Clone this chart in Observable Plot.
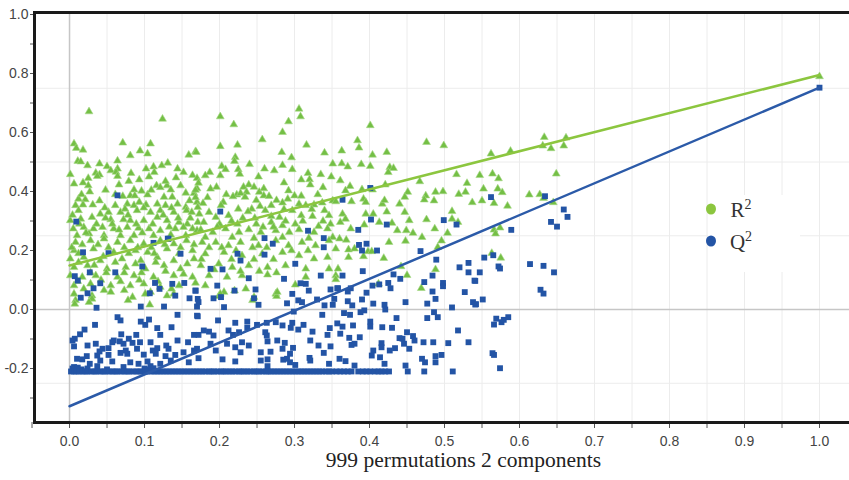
<!DOCTYPE html>
<html><head><meta charset="utf-8">
<script src="https://cdn.jsdelivr.net/npm/d3@7"></script>
<script src="https://cdn.jsdelivr.net/npm/@observablehq/plot@0.6"></script>
<style>
body{margin:0;background:#fff;}
#wrap{position:relative;width:849px;height:480px;overflow:hidden;}
</style></head><body><div id="wrap"></div><script>
// R² permutation values [correlation, R²]
const r2Points = [
[0.026,0.671],[0.124,0.646],[0.006,0.562],[0.009,0.547],[0.018,0.541],[0.071,0.565],[0.108,0.562],[0.094,0.538],[0.104,0.528],[0.081,0.522],[0.159,0.524],[0.168,0.536],[0.011,0.503],[0.015,0.501],[0.024,0.488],[0.040,0.494],[0.050,0.485],[0.064,0.504],[0.064,0.477],[0.055,0.471],[0.062,0.466],[0.102,0.477],[0.112,0.484],[0.123,0.488],[0.131,0.497],[0.144,0.477],[0.152,0.465],[0.001,0.458],[0.035,0.463],[0.040,0.457],[0.082,0.462],[0.113,0.465],[0.142,0.447],[0.164,0.455],[0.025,0.445],[0.037,0.452],[0.064,0.452],[0.106,0.450],[0.006,0.426],[0.025,0.420],[0.066,0.423],[0.116,0.420],[0.121,0.414],[0.130,0.420],[0.027,0.399],[0.086,0.406],[0.096,0.402],[0.135,0.406],[0.166,0.394],[0.170,0.410],[0.012,0.375],[0.021,0.373],[0.040,0.369],[0.071,0.384],[0.081,0.386],[0.087,0.386],[0.104,0.389],[0.126,0.381],[0.137,0.381],[0.160,0.369],[0.008,0.353],[0.031,0.355],[0.061,0.353],[0.077,0.358],[0.086,0.353],[0.093,0.364],[0.102,0.355],[0.117,0.358],[0.128,0.353],[0.144,0.358],[0.155,0.347],[0.012,0.336],[0.041,0.324],[0.052,0.330],[0.068,0.330],[0.074,0.341],[0.090,0.336],[0.108,0.330],[0.121,0.336],[0.139,0.330],[0.156,0.336],[0.170,0.364],[0.001,0.302],[0.015,0.307],[0.030,0.313],[0.055,0.305],[0.072,0.305],[0.081,0.302],[0.099,0.302],[0.117,0.313],[0.130,0.302],[0.146,0.296],[0.157,0.290],[0.171,0.296],[0.005,0.274],[0.019,0.279],[0.032,0.274],[0.044,0.279],[0.059,0.274],[0.077,0.279],[0.092,0.276],[0.106,0.274],[0.121,0.268],[0.141,0.274],[0.152,0.279],[0.164,0.274],[0.010,0.251],[0.026,0.257],[0.046,0.251],[0.068,0.251],[0.086,0.251],[0.112,0.251],[0.135,0.253],[0.155,0.251],
[0.306,0.680],[0.308,0.654],[0.201,0.654],[0.219,0.627],[0.292,0.637],[0.284,0.601],[0.257,0.576],[0.224,0.558],[0.201,0.553],[0.316,0.558],[0.169,0.533],[0.283,0.533],[0.340,0.531],[0.221,0.516],[0.296,0.515],[0.220,0.503],[0.240,0.492],[0.284,0.489],[0.203,0.486],[0.351,0.494],[0.187,0.465],[0.208,0.475],[0.225,0.475],[0.260,0.477],[0.273,0.471],[0.297,0.475],[0.318,0.462],[0.181,0.454],[0.201,0.454],[0.227,0.459],[0.252,0.450],[0.335,0.458],[0.349,0.450],[0.170,0.445],[0.320,0.441],[0.172,0.429],[0.239,0.423],[0.321,0.423],[0.338,0.414],[0.188,0.409],[0.196,0.415],[0.232,0.415],[0.246,0.415],[0.292,0.403],[0.168,0.405],[0.236,0.398],[0.253,0.398],[0.259,0.386],[0.266,0.384],[0.300,0.386],[0.223,0.389],[0.228,0.394],[0.218,0.383],[0.234,0.381],[0.291,0.375],[0.168,0.380],[0.205,0.364],[0.269,0.353],[0.284,0.362],[0.306,0.358],[0.315,0.353],[0.326,0.355],[0.337,0.362],[0.351,0.369],[0.171,0.347],[0.202,0.353],[0.225,0.341],[0.243,0.341],[0.261,0.336],[0.297,0.336],[0.340,0.336],[0.173,0.324],[0.195,0.313],[0.212,0.319],[0.238,0.332],[0.269,0.316],[0.280,0.313],[0.309,0.319],[0.324,0.316],[0.346,0.319],[0.179,0.296],[0.200,0.290],[0.224,0.290],[0.249,0.290],[0.269,0.296],[0.284,0.285],[0.301,0.290],[0.332,0.282],[0.348,0.290],[0.170,0.268],[0.191,0.262],[0.208,0.274],[0.226,0.262],[0.239,0.271],[0.255,0.262],[0.275,0.268],[0.293,0.262],[0.306,0.271],[0.326,0.262],[0.344,0.274],[0.181,0.245],[0.217,0.245],[0.246,0.242],[0.284,0.245],[0.319,0.242],[0.351,0.245],
[0.008,0.228],[0.028,0.234],[0.046,0.240],[0.064,0.228],[0.081,0.234],[0.099,0.223],[0.121,0.234],[0.139,0.223],[0.156,0.234],[0.006,0.200],[0.032,0.206],[0.059,0.194],[0.088,0.200],[0.104,0.194],[0.130,0.206],[0.164,0.200],[0.001,0.172],[0.019,0.177],[0.041,0.166],[0.070,0.172],[0.095,0.166],[0.117,0.177],[0.139,0.166],[0.166,0.172],[0.006,0.143],[0.024,0.149],[0.050,0.138],[0.075,0.143],[0.101,0.138],[0.126,0.149],[0.148,0.138],[0.001,0.115],[0.017,0.110],[0.035,0.115],[0.064,0.110],[0.086,0.115],[0.112,0.110],[0.139,0.115],[0.164,0.110],[0.006,0.081],[0.028,0.087],[0.055,0.081],[0.081,0.081],[0.099,0.087],[0.121,0.076],[0.146,0.081],[0.006,0.053],[0.030,0.047],[0.055,0.059],[0.084,0.042],[0.108,0.059],[0.130,0.047],[0.008,0.031],[0.030,0.036],[0.107,0.016],
[0.177,0.228],[0.195,0.228],[0.212,0.217],[0.228,0.228],[0.252,0.217],[0.275,0.234],[0.292,0.217],[0.310,0.228],[0.328,0.217],[0.346,0.234],[0.181,0.189],[0.206,0.194],[0.230,0.183],[0.257,0.189],[0.284,0.194],[0.306,0.183],[0.326,0.172],[0.344,0.177],[0.175,0.149],[0.199,0.155],[0.217,0.143],[0.239,0.149],[0.264,0.143],[0.288,0.149],[0.315,0.138],[0.346,0.138],[0.186,0.115],[0.210,0.110],[0.230,0.115],[0.264,0.118],[0.301,0.084],[0.315,0.110],[0.355,0.115],[0.181,0.081],[0.206,0.059],[0.220,0.064],[0.235,0.070],[0.275,0.053],[0.276,0.045],[0.244,0.031],[0.199,0.045],
[0.401,0.624],[0.384,0.573],[0.386,0.548],[0.363,0.538],[0.476,0.567],[0.499,0.556],[0.423,0.533],[0.404,0.524],[0.363,0.495],[0.371,0.484],[0.389,0.492],[0.401,0.486],[0.427,0.482],[0.432,0.479],[0.425,0.465],[0.516,0.458],[0.361,0.437],[0.374,0.418],[0.368,0.403],[0.390,0.407],[0.404,0.406],[0.421,0.423],[0.467,0.434],[0.530,0.428],[0.451,0.398],[0.475,0.386],[0.488,0.398],[0.498,0.400],[0.519,0.391],[0.528,0.398],[0.355,0.366],[0.376,0.366],[0.392,0.375],[0.395,0.364],[0.417,0.358],[0.420,0.370],[0.440,0.358],[0.447,0.381],[0.473,0.372],[0.486,0.369],[0.537,0.363],[0.364,0.324],[0.395,0.324],[0.405,0.324],[0.423,0.331],[0.447,0.330],[0.510,0.333],[0.368,0.307],[0.413,0.296],[0.430,0.293],[0.453,0.302],[0.476,0.305],[0.510,0.307],[0.518,0.296],[0.361,0.296],[0.375,0.274],[0.393,0.287],[0.437,0.268],[0.449,0.268],[0.458,0.259],[0.470,0.245],[0.487,0.274],[0.504,0.259],[0.360,0.240],[0.369,0.236],[0.426,0.228],[0.448,0.232],[0.496,0.233],[0.355,0.206],[0.372,0.203],[0.380,0.206],[0.398,0.197],[0.403,0.197],[0.491,0.211],[0.372,0.177],[0.392,0.180],[0.419,0.174],[0.358,0.138],[0.442,0.146],[0.488,0.136],[0.450,0.116],[0.412,0.087],[0.469,0.072],[0.355,0.102],
[0.562,0.528],[0.588,0.537],[0.633,0.584],[0.662,0.582],[0.631,0.555],[0.642,0.546],[0.659,0.555],[0.547,0.455],[0.564,0.460],[0.572,0.444],[0.649,0.460],[0.552,0.409],[0.571,0.409],[0.577,0.397],[0.550,0.369],[0.566,0.360],[0.584,0.351],[0.613,0.389],[0.627,0.390],[0.632,0.377],[0.645,0.363],[0.566,0.270],[0.574,0.277],[0.568,0.257],[0.563,0.191],[0.575,0.175],
[0.007,0.019],[0.026,0.025],[0.078,0.031],[0.101,0.053],[0.139,0.053],[0.201,0.053],[0.246,0.042],[0.277,0.059],
[0.004,0.32],[0.013,0.29],[0.022,0.26],[0.036,0.29],[0.048,0.31],[0.057,0.29],[0.066,0.27],[0.078,0.32],[0.089,0.29],[0.097,0.26],[0.111,0.29],[0.125,0.32],[0.133,0.28],[0.145,0.31],[0.161,0.31],[0.175,0.27],[0.186,0.33],[0.197,0.28],[0.216,0.30],[0.231,0.31],[0.247,0.31],[0.258,0.28],[0.272,0.28],[0.288,0.30],[0.311,0.30],[0.338,0.30],[0.003,0.21],[0.017,0.22],[0.038,0.22],[0.052,0.21],[0.073,0.21],[0.091,0.21],[0.109,0.21],[0.127,0.22],[0.148,0.21],[0.166,0.22],[0.186,0.21],[0.203,0.21],[0.222,0.20],[0.244,0.21],[0.263,0.21],[0.296,0.20],[0.318,0.20],[0.012,0.19],[0.045,0.18],[0.079,0.19],[0.113,0.19],[0.146,0.19],[0.176,0.17],[0.216,0.17],[0.246,0.17],[0.272,0.17],[0.012,0.16],[0.033,0.15],[0.061,0.16],[0.088,0.155],[0.115,0.16],[0.157,0.155],[0.193,0.135],[0.228,0.13],[0.253,0.13],[0.276,0.125],[0.028,0.125],[0.049,0.125],[0.073,0.125],[0.096,0.125],[0.128,0.13],[0.152,0.12],[0.011,0.096],[0.042,0.1],[0.068,0.095],[0.093,0.1],[0.118,0.095],[0.168,0.09],[0.046,0.065],[0.073,0.065],[0.019,0.07],[0.136,0.07],[0.016,0.39],[0.048,0.405],[0.061,0.39],[0.109,0.405],[0.148,0.42],[0.155,0.395],[0.018,0.43],[0.079,0.435],[0.093,0.44],[0.128,0.435],[0.178,0.36],[0.184,0.38],[0.209,0.39],[0.249,0.37],[0.276,0.37],[0.309,0.385],[0.331,0.39],[0.259,0.41],[0.286,0.43],[0.309,0.44],[0.254,0.35],[0.286,0.34],[0.323,0.34],[0.018,0.355],[0.047,0.345],[0.099,0.345],[0.136,0.345],[0.163,0.33],
[1.0,0.790]
];
// Q² permutation values [correlation, Q²]
const q2Points = [
[0.064,0.387],[0.009,0.298],[0.132,0.240],[0.201,0.332],[0.318,0.267],
[0.112,0.226],[0.131,0.240],[0.018,0.194],[0.052,0.191],[0.148,0.189],[0.097,0.146],[0.027,0.126],[0.061,0.126],[0.007,0.113],[0.011,0.098],[0.041,0.089],[0.114,0.090],[0.137,0.087],[0.153,0.090],[0.032,0.072],[0.120,0.070],[0.168,0.064],[0.024,0.055],[0.107,0.055],[0.141,0.047],[0.015,0.040],[0.160,0.038],[0.171,0.036],[0.036,0.006],[0.095,0.010],[0.126,0.010],[0.170,0.010],[0.144,-0.018],[0.064,-0.026],[0.068,-0.037],[0.106,-0.034],[0.095,-0.041],[0.171,-0.023],[0.034,-0.052],[0.101,-0.052],[0.117,-0.063],[0.136,-0.060],[0.020,-0.068],[0.069,-0.084],[0.089,-0.086],[0.121,-0.086],[0.014,-0.084],[0.166,-0.086],[0.007,-0.099],[0.079,-0.099],[0.144,-0.105],[0.024,-0.122],[0.035,-0.116],[0.057,-0.111],[0.067,-0.108],[0.072,-0.116],[0.084,-0.113],[0.094,-0.111],[0.108,-0.111],[0.129,-0.122],[0.158,-0.111],[0.044,-0.133],[0.052,-0.131],[0.075,-0.139],[0.090,-0.133],[0.111,-0.139],[0.117,-0.131],[0.132,-0.133],[0.023,-0.158],[0.037,-0.156],[0.052,-0.154],[0.068,-0.147],[0.077,-0.150],[0.099,-0.153],[0.115,-0.150],[0.128,-0.158],[0.141,-0.154],[0.152,-0.145],[0.166,-0.139],[0.010,-0.167],[0.017,-0.169],[0.027,-0.184],[0.041,-0.173],[0.057,-0.176],[0.081,-0.179],[0.092,-0.184],[0.104,-0.176],[0.121,-0.184],[0.135,-0.173],[0.159,-0.179],[0.006,-0.195],[0.037,-0.192],[0.072,-0.195],[0.108,-0.192],
[0.004,-0.105],[0.006,-0.125],[0.040,-0.142],[0.059,-0.105],[0.004,-0.200],[0.011,-0.197],[0.016,-0.203],[0.024,-0.200],[0.050,-0.203],[0.100,-0.200],[0.107,-0.203],[0.112,-0.199],
[0.260,0.242],[0.339,0.242],[0.339,0.211],[0.271,0.223],[0.224,0.189],[0.260,0.186],[0.301,0.155],[0.228,0.166],[0.188,0.138],[0.204,0.136],[0.239,0.106],[0.286,0.104],[0.315,0.087],[0.335,0.115],[0.197,0.081],[0.168,0.064],[0.220,0.064],[0.248,0.068],[0.319,0.064],[0.348,0.068],[0.357,0.072],[0.192,0.038],[0.202,0.042],[0.246,0.038],[0.297,0.053],[0.305,0.031],[0.172,0.025],[0.330,0.034],[0.353,0.036],[0.252,0.016],[0.206,0.008],[0.340,0.014],[0.351,0.016],[0.299,-0.007],[0.337,-0.018],[0.170,-0.021],[0.198,-0.037],[0.221,-0.045],[0.237,-0.041],[0.250,-0.052],[0.263,-0.045],[0.275,-0.043],[0.284,-0.054],[0.297,-0.045],[0.312,-0.052],[0.237,-0.062],[0.179,-0.071],[0.186,-0.075],[0.212,-0.071],[0.226,-0.077],[0.261,-0.077],[0.305,-0.068],[0.324,-0.075],[0.172,-0.086],[0.192,-0.088],[0.218,-0.086],[0.263,-0.088],[0.344,-0.086],[0.230,-0.111],[0.264,-0.108],[0.277,-0.105],[0.287,-0.113],[0.321,-0.105],[0.188,-0.116],[0.210,-0.116],[0.221,-0.128],[0.239,-0.122],[0.284,-0.133],[0.332,-0.122],[0.170,-0.133],[0.195,-0.139],[0.228,-0.145],[0.255,-0.145],[0.268,-0.143],[0.294,-0.150],[0.339,-0.147],[0.172,-0.165],[0.204,-0.169],[0.221,-0.176],[0.255,-0.173],[0.264,-0.169],[0.290,-0.167],[0.294,-0.179],[0.321,-0.173],[0.346,-0.184],[0.301,-0.188],[0.264,-0.192],
[0.295,-0.062],[0.298,-0.130],[0.285,-0.170],[0.320,-0.164],[0.347,-0.063],[0.348,-0.125],[0.308,0.089],[0.310,0.025],[0.290,0.021],
[0.401,0.412],[0.364,0.372],[0.402,0.305],[0.423,0.288],[0.499,0.303],[0.516,0.288],[0.385,0.270],[0.386,0.219],[0.396,0.223],[0.390,0.200],[0.410,0.200],[0.468,0.198],[0.489,0.169],[0.391,0.130],[0.364,0.115],[0.432,0.119],[0.441,0.104],[0.532,0.158],[0.520,0.143],[0.532,0.126],[0.484,0.115],[0.473,0.093],[0.498,0.090],[0.498,0.079],[0.540,0.098],[0.358,0.072],[0.375,0.072],[0.404,0.081],[0.413,0.085],[0.425,0.090],[0.428,0.072],[0.396,0.057],[0.371,0.061],[0.484,0.061],[0.527,0.059],[0.371,0.028],[0.390,0.034],[0.488,0.036],[0.377,0.014],[0.405,0.020],[0.420,0.016],[0.448,0.025],[0.477,0.020],[0.538,0.025],[0.541,0.017],[0.393,-0.003],[0.421,0.000],[0.510,0.007],[0.366,-0.012],[0.374,-0.018],[0.388,-0.009],[0.436,-0.029],[0.486,-0.009],[0.491,-0.026],[0.477,-0.029],[0.401,-0.041],[0.417,-0.060],[0.401,-0.058],[0.430,-0.062],[0.378,-0.054],[0.364,-0.058],[0.357,-0.047],[0.450,-0.077],[0.518,-0.071],[0.361,-0.082],[0.387,-0.094],[0.373,-0.096],[0.440,-0.097],[0.444,-0.099],[0.458,-0.090],[0.460,-0.105],[0.472,-0.111],[0.485,-0.111],[0.505,-0.114],[0.532,-0.111],[0.376,-0.120],[0.380,-0.116],[0.416,-0.114],[0.416,-0.128],[0.434,-0.131],[0.446,-0.116],[0.453,-0.133],[0.427,-0.139],[0.405,-0.139],[0.403,-0.156],[0.414,-0.162],[0.360,-0.167],[0.368,-0.175],[0.380,-0.190],[0.420,-0.184],[0.448,-0.190],[0.470,-0.167],[0.474,-0.179],[0.488,-0.158],[0.496,-0.154],[0.488,-0.179],
[0.562,0.381],[0.634,0.384],[0.659,0.339],[0.664,0.314],[0.642,0.297],[0.650,0.281],[0.589,0.270],[0.553,0.176],[0.565,0.184],[0.547,0.126],[0.572,0.146],[0.574,0.139],[0.614,0.154],[0.632,0.148],[0.646,0.126],[0.541,0.097],[0.628,0.067],[0.632,0.054],[0.551,0.034],[0.542,0.018],[0.569,-0.031],[0.566,-0.051],[0.576,-0.043],[0.579,-0.035],[0.585,-0.026],[0.564,-0.148],[0.566,-0.154],[0.574,-0.199],
[1.0,0.752]
];
// Q² values clipped at the floor
const q2Floor = -0.21;
const q2FloorX = [0.002,0.006,0.009,0.013,0.017,0.021,0.024,0.029,0.033,0.036,0.041,0.045,0.048,0.053,0.057,0.061,0.064,0.069,0.073,0.077,0.080,0.085,0.089,0.093,0.096,0.101,0.104,0.109,0.113,0.117,0.121,0.125,0.129,0.133,0.137,0.141,0.145,0.149,0.153,0.157,0.161,0.165,0.169,0.173,0.177,0.181,0.186,0.189,0.193,0.197,0.202,0.205,0.209,0.213,0.217,0.221,0.226,0.229,0.233,0.237,0.241,0.246,0.249,0.253,0.257,0.262,0.265,0.269,0.273,0.277,0.281,0.285,0.289,0.293,0.297,0.301,0.305,0.309,0.313,0.317,0.321,0.325,0.329,0.333,0.337,0.342,0.346,0.350,0.356,0.361,0.366,0.371,0.376,0.385,0.391,0.396,0.401,0.407,0.412,0.416,0.421,0.426,0.451,0.473,0.511];
// regression lines (intercept at 0, value at 1)
const r2Line = [[0,0.149],[1,0.795]];
const q2Line = [[0,-0.328],[1,0.752]];
// axes
const xLabelTicks = [0,0.1,0.2,0.3,0.4,0.5,0.6,0.7,0.8,0.9,1.0];
const xMinorTicks = [-0.05,0,0.05,0.1,0.15,0.2,0.25,0.3,0.35,0.4,0.45,0.5,0.55,0.6,0.65,0.7,0.75,0.8,0.85,0.9,0.95,1.0];
const xGrid = [0.05,0.1,0.15,0.2,0.25,0.3,0.35,0.4,0.45,0.5,0.55,0.6,0.65,0.7,0.75,0.8,0.85,0.9,0.95,1.0];
const yLabelTicks = [-0.2,0,0.2,0.4,0.6,0.8,1.0];
const yMinorTicks = [-0.3,-0.2,-0.1,0,0.1,0.2,0.3,0.4,0.5,0.6,0.7,0.8,0.9,1.0];
const yGrid = [-0.25,0.25,0.5,0.75];
const zeroLines = [0];
const xTitle = "999 permutations 2 components";
const legendLabels = ["R", "Q"];
const legendSup = ["2", "2"];
const colors = {r2: "#74bf45", r2Edge: "#a6d886", q2: "#2354a5", r2Line: "#8cc63f", q2Line: "#2b5aa8"};

const q2All = q2Points.concat(q2FloorX.map(x => [x, q2Floor]));
const fmt = d => d.toFixed(1);

const chart = Plot.plot({
  width: 849, height: 480,
  marginLeft: 34, marginRight: -3, marginTop: 12, marginBottom: 58,
  x: {domain: [-0.0467, 1.044]},
  y: {domain: [-0.383, 1.0068]},
  style: {fontFamily: '"Liberation Sans", Arial, sans-serif', fontSize: "14px", color: "#444", background: "#fff"},
  marks: [
    Plot.gridX(xGrid, {stroke: "#ececec", strokeOpacity: 1}),
    Plot.gridY(yGrid, {stroke: "#ececec", strokeOpacity: 1}),
    Plot.ruleX(zeroLines, {stroke: "#c6c6c6", strokeWidth: 1.5}),
    Plot.ruleY(zeroLines, {stroke: "#c6c6c6", strokeWidth: 1.5}),
    Plot.dot(r2Points, {x: d => d[0], y: d => d[1], symbol: "triangle", r: 2.9, fill: colors.r2, stroke: colors.r2Edge, strokeWidth: 0.6}),
    Plot.dot(q2All, {x: d => d[0], y: d => d[1], symbol: "square", r: 3.3, fill: colors.q2, stroke: "none"}),
    Plot.line(r2Line, {x: d => d[0], y: d => d[1], stroke: colors.r2Line, strokeWidth: 2.5}),
    Plot.line(q2Line, {x: d => d[0], y: d => d[1], stroke: colors.q2Line, strokeWidth: 2.5}),
    Plot.axisX(xMinorTicks, {tickSize: 6, tickFormat: () => "", label: null, stroke: "#555"}),
    Plot.axisX(xLabelTicks, {tickSize: 0, tickPadding: 14, tickFormat: fmt, label: null}),
    Plot.axisY(yMinorTicks, {tickSize: 4, tickFormat: () => "", label: null, stroke: "#555"}),
    Plot.axisY(yLabelTicks, {tickSize: 0, tickPadding: 6, tickFormat: fmt, label: null}),
    Plot.frame({stroke: "#1a1a1a", strokeWidth: 3}),
    Plot.text([xTitle], {text: d => d, frameAnchor: "bottom", dx: 20, dy: 44.6, fontFamily: '"Liberation Serif", "Times New Roman", serif', fontSize: 21.5, fill: "#222"})
  ]
});
document.getElementById("wrap").appendChild(chart);

// legend
const svg = d3.select(chart);
const lg = svg.append("g");
lg.append("rect").attr("x", 708).attr("y", 195).attr("width", 92).attr("height", 77).attr("fill", "#fff");
const legendColors = [colors.r2Line, colors.q2];
[0, 1].forEach(i => {
  const cy = 209 + i * 32;
  lg.append("ellipse").attr("cx", 711).attr("cy", cy).attr("rx", 5).attr("ry", 5.5).attr("fill", legendColors[i]);
  const t = lg.append("text").attr("x", 741).attr("y", cy + 7.7)
    .attr("font-family", '"Liberation Serif", "Times New Roman", serif').attr("font-size", 21).attr("fill", "#333");
  t.append("tspan").text(legendLabels[i]);
  t.append("tspan").attr("dy", -7.5).attr("font-size", 14).text(legendSup[i]);
});
</script></body></html>
